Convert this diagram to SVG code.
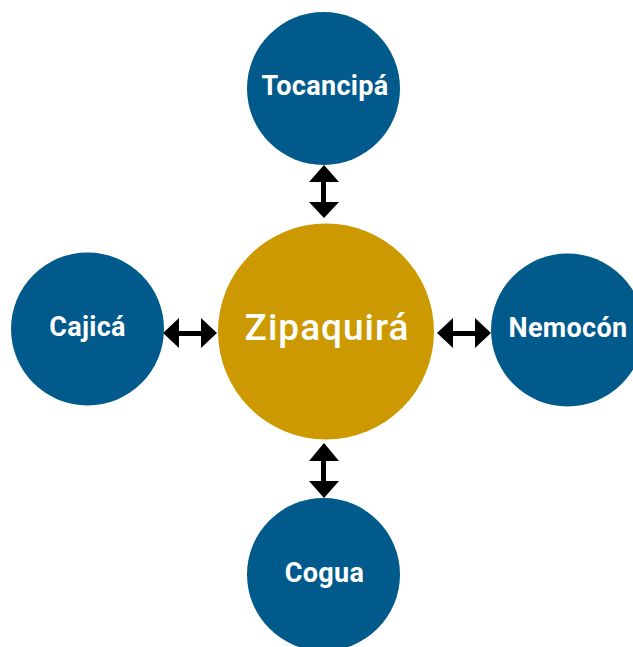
<svg xmlns="http://www.w3.org/2000/svg" width="633" height="647" viewBox="0 0 633 647">
<style>
.sat{fill:#005a8b}
.hub{fill:#cc9a00}
.lbl{font-family:Roboto,"Liberation Sans",sans-serif;font-weight:bold;font-size:27px;letter-spacing:0.3px;fill:#ffffff;text-anchor:middle}
.big{font-family:Roboto,"Liberation Sans",sans-serif;font-weight:500;font-size:37px;letter-spacing:1px;fill:#ffffff;text-anchor:middle}
.arr{fill:#000000}
</style>
<rect width="633" height="647" fill="#ffffff"/>
<g id="connectors">
<polygon class="arr" points="163,333 179,318 179,331 201,331 201,318 217,333 201,348 201,336 179,336 179,348"/>
<polygon class="arr" points="437,333 453,318 453,331 475,331 475,318 491,333 475,348 475,336 453,336 453,348"/>
<polygon class="arr" points="324,165 339,182 326,182 326,202 339,202 324,218 309,202 321,202 321,182 309,182"/>
<polygon class="arr" points="324,443 339,461 326,461 326,481 339,481 324,498 309,481 321,481 321,461 309,461"/>
</g>
<g id="zipaquira">
<circle class="hub" cx="326" cy="331.5" r="108"/>
<text class="big" x="327" y="340">Zipaquirá</text>
</g>
<g id="tocancipa">
<circle class="sat" cx="323.5" cy="88.5" r="76.5"/>
<text class="lbl" x="325" y="95">Tocancipá</text>
</g>
<g id="cajica">
<circle class="sat" cx="87.5" cy="329" r="76.5"/>
<text class="lbl" x="87.5" y="336">Cajicá</text>
</g>
<g id="nemocon">
<circle class="sat" cx="567.5" cy="330" r="76.5"/>
<text class="lbl" x="568" y="337">Nemocón</text>
</g>
<g id="cogua">
<circle class="sat" cx="323.5" cy="574.5" r="76.5"/>
<text class="lbl" x="324.5" y="582">Cogua</text>
</g>
</svg>
